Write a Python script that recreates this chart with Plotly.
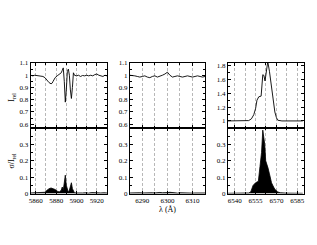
import plotly.graph_objects as go

# ---- Data ----
na_wl = [5855, 5857, 5859, 5861, 5863, 5865, 5867, 5869, 5871, 5873, 5875, 5876, 5877, 5879,
         5881, 5883, 5885, 5886, 5887, 5888, 5889, 5890, 5891, 5892, 5893, 5894, 5895, 5896,
         5897, 5898, 5900, 5902, 5904, 5906, 5908, 5910, 5912, 5914, 5916, 5918, 5920, 5922,
         5924, 5926, 5928, 5930]
na_irel = [1.0, 0.995, 1.0, 0.998, 1.0, 0.995, 0.99, 0.98, 0.96, 0.94, 0.93, 0.935, 0.95, 0.98,
           0.995, 1.005, 1.02, 1.04, 1.06, 0.95, 0.78, 0.88, 1.03, 1.05, 1.0, 0.88, 0.81, 0.9,
           1.02, 1.0, 0.995, 1.0, 0.99, 0.998, 0.995, 1.0, 0.995, 1.0, 0.995, 1.005, 1.01, 1.0,
           0.995, 0.99, 1.0, 0.995]
na_sig_wl = [5855, 5858, 5861, 5864, 5867, 5869, 5871, 5873, 5875, 5877, 5879, 5881, 5883, 5885,
             5886, 5887, 5888, 5889, 5890, 5891, 5892, 5893, 5894, 5895, 5896, 5897, 5898, 5900,
             5903, 5906, 5909, 5912, 5915, 5918, 5921, 5924, 5927, 5930]
na_sig = [0.004, 0.005, 0.003, 0.005, 0.004, 0.008, 0.02, 0.03, 0.034, 0.031, 0.025, 0.015, 0.01,
          0.02, 0.04, 0.02, 0.06, 0.112, 0.05, 0.02, 0.008, 0.02, 0.05, 0.066, 0.03, 0.01, 0.005,
          0.004, 0.006, 0.004, 0.005, 0.003, 0.006, 0.004, 0.005, 0.004, 0.005, 0.004]

oi_wl = list(range(6285, 6316))
oi_irel = [1.0, 1.0, 0.995, 0.99, 0.985, 0.99, 0.995, 0.985, 0.98, 0.99, 0.995, 0.985, 0.99,
           1.0, 1.01, 1.025, 1.0, 0.985, 0.99, 0.995, 0.99, 0.985, 0.99, 0.995, 0.99, 0.985,
           0.99, 0.995, 0.99, 0.985, 0.99]
oi_sig = [0.004, 0.005, 0.006, 0.008, 0.005, 0.004, 0.005, 0.003, 0.004, 0.005, 0.004, 0.006,
          0.007, 0.005, 0.004, 0.006, 0.008, 0.005, 0.004, 0.003, 0.005, 0.004, 0.003, 0.004,
          0.005, 0.003, 0.004, 0.005, 0.004, 0.003, 0.004]

ha_wl = [6535, 6538, 6541, 6544, 6547, 6550, 6552, 6553.7, 6555, 6556, 6557.3, 6559, 6560.2,
         6561, 6561.8, 6562.7, 6563.8, 6565, 6566.5, 6568, 6568.9, 6570, 6571, 6574, 6577,
         6580, 6583, 6586, 6589]
ha_irel = [1.0, 1.0, 1.0, 1.0, 1.0, 1.005, 1.03, 1.09, 1.18, 1.3, 1.35, 1.36, 1.67, 1.66, 1.58,
           1.75, 1.86, 1.72, 1.46, 1.22, 1.13, 1.05, 1.01, 1.0, 1.0, 1.005, 1.01, 1.005, 1.0]
ha_sig_wl = [6535, 6540, 6545, 6550, 6551.5, 6553.2, 6555, 6556, 6557, 6558.2, 6559.3, 6560.2,
             6561, 6561.6, 6562.3, 6563.2, 6564, 6565, 6566.5, 6568, 6568.9, 6571, 6573,
             6577, 6581, 6585, 6589]
ha_sig = [0.002, 0.002, 0.003, 0.004, 0.01, 0.05, 0.066, 0.07, 0.075, 0.166, 0.25, 0.386, 0.34,
          0.3, 0.2, 0.18, 0.155, 0.12, 0.066, 0.04, 0.026, 0.01, 0.005, 0.003, 0.002, 0.003, 0.002]

# ---- Layout geometry ----
W, H = 317, 245
panels_x = [(29, 106), (129, 205), (228, 305)]
top_y = (61, 128)
bot_y = (128, 196)

def xd(a, b):
    return [a / W, b / W]

def yd(a, b):
    return [(H - b) / H, (H - a) / H]

FONT = "Liberation Serif"
GRID = "#b8b8b8"
fig = go.Figure()

x_specs = [
    dict(range=[5855, 5930], tick0=5860, dtick=20, minor=10),
    dict(range=[6285, 6315], tick0=6290, dtick=10, minor=5),
    dict(range=[6535, 6590], tick0=6540, dtick=15, minor=7.5),
]
top_yspecs = [
    dict(range=[0.57, 1.1], tickvals=[0.6, 0.7, 0.8, 0.9, 1.0, 1.1], minor=0.05),
    dict(range=[0.57, 1.1], tickvals=[0.6, 0.7, 0.8, 0.9, 1.0, 1.1], minor=0.05),
    dict(range=[0.9, 1.84], tickvals=[1.0, 1.2, 1.4, 1.6, 1.8], minor=0.1),
]
top_data = [(na_wl, na_irel), (oi_wl, oi_irel), (ha_wl, ha_irel)]
bot_data = [(na_sig_wl, na_sig), (oi_wl, oi_sig), (ha_sig_wl, ha_sig)]

for i in range(3):
    idx_top = 2 * i + 1
    idx_bot = 2 * i + 2
    xa_top = "x" if idx_top == 1 else "x%d" % idx_top
    ya_top = "y" if idx_top == 1 else "y%d" % idx_top
    xa_bot = "x%d" % idx_bot
    ya_bot = "y%d" % idx_bot
    fig.add_trace(go.Scatter(x=top_data[i][0], y=top_data[i][1], mode="lines",
                             line=dict(color="black", width=0.9), xaxis=xa_top, yaxis=ya_top,
                             showlegend=False, hoverinfo="skip"))
    fig.add_trace(go.Scatter(x=bot_data[i][0], y=bot_data[i][1], mode="lines", fill="tozeroy",
                             fillcolor="black", line=dict(color="black", width=0.8),
                             xaxis=xa_bot, yaxis=ya_bot, showlegend=False, hoverinfo="skip"))
    xs = x_specs[i]
    common_x = dict(range=xs["range"], tickmode="linear", tick0=xs["tick0"], dtick=xs["dtick"],
                    showline=True, linecolor="black", linewidth=1, mirror="ticks",
                    ticks="inside", ticklen=3, tickcolor="black",
                    showgrid=True, gridcolor=GRID, griddash="3px,2px", gridwidth=0.6,
                    minor=dict(dtick=xs["minor"], tick0=xs["tick0"], showgrid=True,
                               gridcolor=GRID, griddash="3px,2px", gridwidth=0.6,
                               ticks="inside", ticklen=2, tickcolor="black"),
                    zeroline=False, domain=xd(*panels_x[i]),
                    tickfont=dict(family=FONT, size=7, color="black"))
    ys = top_yspecs[i]
    common_y = dict(showline=True, linecolor="black", linewidth=1, mirror="ticks",
                    ticks="inside", ticklen=3, tickcolor="black", showgrid=False, zeroline=False,
                    tickfont=dict(family=FONT, size=7, color="black"))
    top_key_x = "xaxis" if idx_top == 1 else "xaxis%d" % idx_top
    top_key_y = "yaxis" if idx_top == 1 else "yaxis%d" % idx_top
    fig.layout[top_key_x] = dict(common_x, anchor=ya_top, showticklabels=False)
    fig.layout[top_key_y] = dict(common_y, range=ys["range"], tickmode="array",
                                 tickvals=ys["tickvals"],
                                 ticktext=[("%g" % v) for v in ys["tickvals"]],
                                 minor=dict(dtick=ys["minor"], tick0=0, ticks="inside",
                                            ticklen=2, tickcolor="black"),
                                 domain=yd(*top_y), anchor=xa_top)
    fig.layout["xaxis%d" % idx_bot] = dict(common_x, anchor=ya_bot, showticklabels=True)
    fig.layout["yaxis%d" % idx_bot] = dict(common_y, range=[0, 0.4], tickmode="array",
                                           tickvals=[0, 0.1, 0.2, 0.3],
                                           ticktext=["0", "0.1", "0.2", "0.3"],
                                           minor=dict(dtick=0.05, tick0=0, ticks="inside",
                                                      ticklen=2, tickcolor="black"),
                                           domain=yd(*bot_y), anchor=xa_bot)

fig.add_annotation(text="I<sub>rel</sub>", x=10 / W, y=(H - 96) / H, xref="paper", yref="paper",
                   xanchor="center", yanchor="middle",
                   showarrow=False, textangle=-90, font=dict(family=FONT, size=8, color="black"))
fig.add_annotation(text="σ/I<sub>rel</sub>", x=10 / W, y=(H - 162) / H, xref="paper",
                   yref="paper", showarrow=False, textangle=-90, xanchor="center",
                   yanchor="middle", font=dict(family=FONT, size=8, color="black"))
fig.add_annotation(text="λ (Å)", x=167 / W, y=(H - 212) / H, xref="paper", yref="paper",
                   xanchor="center", yanchor="middle",
                   showarrow=False, font=dict(family=FONT, size=8, color="black"))

fig.update_layout(width=W, height=H, margin=dict(l=0, r=0, t=0, b=0),
                  paper_bgcolor="white", plot_bgcolor="white", showlegend=False,
                  hovermode=False)
fig.write_html("out.html", config={"displayModeBar": False},
               post_script="document.body.style.margin='0';document.body.style.overflow='hidden';")
